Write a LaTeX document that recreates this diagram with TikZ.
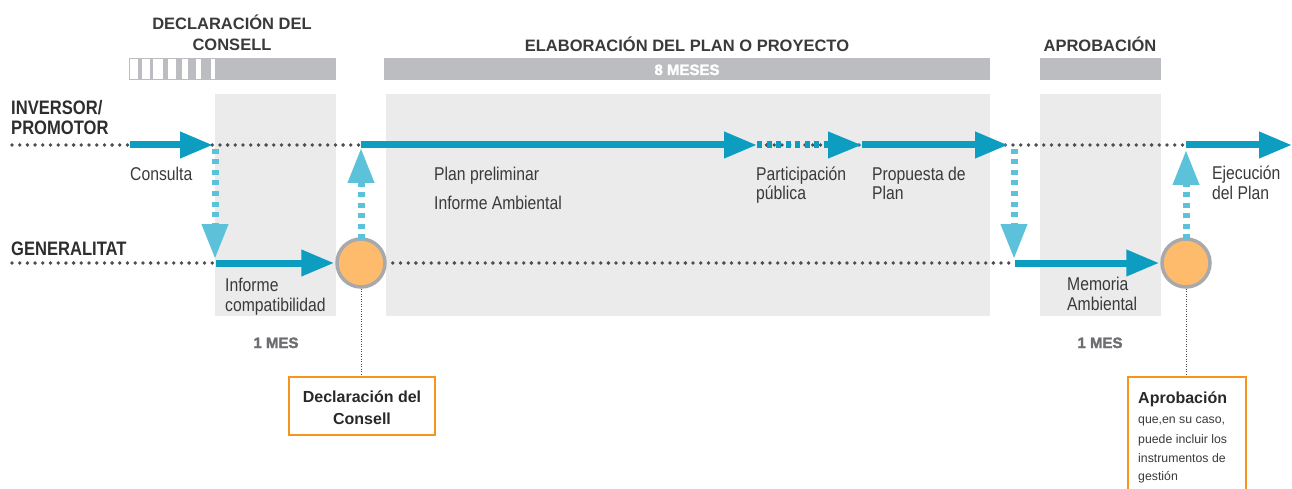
\documentclass[tikz,border=0pt]{standalone}
\usepackage{fontspec}
\setmainfont{Liberation Sans}
\newfontfamily\cond{Liberation Sans}[FakeStretch=0.85]
\newfontfamily\heavy{Liberation Sans Bold}[FakeBold=2]
\usetikzlibrary{arrows.meta}
\definecolor{darkblue}{HTML}{0C9DC0}
\definecolor{lightblue}{HTML}{5CC2DA}
\definecolor{bargray}{HTML}{BCBDC0}
\definecolor{panelgray}{HTML}{EBEBEB}
\definecolor{dotgray}{HTML}{4D4D4F}
\definecolor{circorange}{HTML}{FDBB6B}
\definecolor{ringgray}{HTML}{A7A9AC}
\definecolor{boxorange}{HTML}{F7941D}
\definecolor{txt}{HTML}{3A3A3A}
\definecolor{mesgray}{HTML}{6D6E71}
\tikzset{
  dotline/.style={draw=dotgray, line width=3.8pt, line cap=round, dash pattern=on 0pt off 7.7pt},
  mainarrow/.style={draw=darkblue, line width=7pt, -{Triangle[length=33pt,width=25pt]}},
  dasharrow/.style={draw=darkblue, line width=7pt, dash pattern=on 5pt off 4.5pt, -{Triangle[length=34pt,width=25pt]}},
  vertarrow/.style={draw=lightblue, line width=7pt, dash pattern=on 5pt off 5.5pt, -{Triangle[length=35pt,width=25pt, fill=lightblue]}},
  milestone/.style={circle, fill=circorange, draw=ringgray, line width=3.5pt, minimum size=48pt, inner sep=0pt},
  leader/.style={draw=dotgray, line width=1pt, dash pattern=on 1pt off 1.5pt},
  notebox/.style={draw=boxorange, line width=2.5pt, fill=white, inner sep=0pt},
  lbl/.style={anchor=base west, inner sep=0pt, text=txt, font=\cond\fontsize{18.5}{20}\selectfont},
  role/.style={anchor=base west, inner sep=0pt, text=txt!80!black, font=\cond\bfseries\fontsize{19.5}{21}\selectfont},
  header/.style={anchor=base, inner sep=0pt, text=txt, font=\bfseries\fontsize{16.5}{18}\selectfont},
  mes/.style={anchor=base, inner sep=0pt, text=mesgray, font=\heavy\fontsize{15}{17}\selectfont},
  boxtitle/.style={anchor=base, inner sep=0pt, text=txt!70!black, font=\bfseries\fontsize{16}{18}\selectfont},
  smalltxt/.style={anchor=base west, inner sep=0pt, text=txt, font=\fontsize{12.3}{14}\selectfont},
}
\begin{document}
\begin{tikzpicture}[x=1pt,y=-1pt]
\useasboundingbox (0,0) rectangle (1292,489);
% panels
\fill[panelgray] (215,94) rectangle (336,316);
\fill[panelgray] (386,94) rectangle (990,316);
\fill[panelgray] (1040,94) rectangle (1161,316);
% header bars
\fill[bargray] (129,58) rectangle (336,80);
\foreach \a/\b in {130/138.3,141.7/150,153.3/163.3,167.7/175.7,181.7/188.3,195.7/201,211/215}
  \fill[white] (\a,59.3) rectangle (\b,78.7);
\fill[bargray] (384,58) rectangle (990,80);
\fill[bargray] (1040,58) rectangle (1161,80);
% headers
\node[header] (h1a) at (232,30) {DECLARACIÓN DEL};
\node[header] (h1b) at (232,51) {CONSELL};
\node[header] (h2) at (687,52) {ELABORACIÓN DEL PLAN O PROYECTO};
\node[header] (h3) at (1100,52) {APROBACIÓN};
\node[anchor=base, inner sep=0pt, text=white, font=\heavy\fontsize{15}{17}\selectfont] (m8) at (687,75) {8 MESES};
% role labels
\node[role] (r1a) at (11,115) {INVERSOR/};
\node[role] (r1b) at (11,135) {PROMOTOR};
\node[role] (r2) at (11,255) {GENERALITAT};
% coordinates
\coordinate (tL) at (12,145);
\coordinate (tA) at (130,145);
\coordinate (tB) at (213,145);
\coordinate (tC) at (361,145);
\coordinate (tD) at (757,145);
\coordinate (tE) at (862,145);
\coordinate (tF) at (1008,145);
\coordinate (tG) at (1186,145);
\coordinate (tR) at (1292,145);
\coordinate (bL) at (12,263);
\coordinate (bA) at (216,263);
\coordinate (bB) at (1015,263);
\coordinate (v1s) at (215,149);
\coordinate (v1e) at (215,259);
\coordinate (v2e) at (361,148);
\coordinate (v3s) at (1014,149);
\coordinate (v3e) at (1014,259);
\coordinate (v4e) at (1186,150);
% milestones
\node[milestone] (c1) at (361,263) {};
\node[milestone] (c2) at (1186,263) {};
% dotted timelines
\draw[dotline] (tL) -- (tG);
\draw[dotline] (bL) -- (bA);
\draw[dotline] ([xshift=6pt]c1.east) -- (bB);
% main arrows
\draw[mainarrow] (tA) -- (tB);
\draw[mainarrow] (tC) -- (tD);
\draw[dasharrow] (tD) -- (tE);
\draw[mainarrow] (tE) -- (tF);
\draw[mainarrow] (tG) -- (tR);
\draw[mainarrow] (bA) -- ([xshift=-1pt]c1.west);
\draw[mainarrow] (bB) -- ([xshift=-1pt]c2.west);
% vertical arrows
\draw[vertarrow] (v1s) -- (v1e);
\draw[vertarrow] ([yshift=-2pt]c1.north) -- (v2e);
\draw[vertarrow] (v3s) -- (v3e);
\draw[vertarrow] ([yshift=-2pt]c2.north) -- (v4e);
% labels
\node[lbl] (l1) at (130,181) {Consulta};
\node[lbl] (l2a) at (225,291) {Informe};
\node[lbl] (l2b) at (225,311) {compatibilidad};
\node[lbl] (l3a) at (434,181) {Plan preliminar};
\node[lbl] (l3b) at (434,209) {Informe Ambiental};
\node[lbl] (l4a) at (756,181) {Participación};
\node[lbl] (l4b) at (756,200) {pública};
\node[lbl] (l5a) at (872,181) {Propuesta de};
\node[lbl] (l5b) at (872,200) {Plan};
\node[lbl] (l6a) at (1212,180) {Ejecución};
\node[lbl] (l6b) at (1212,200) {del Plan};
\node[lbl] (l7a) at (1067,290) {Memoria};
\node[lbl] (l7b) at (1067,310) {Ambiental};
\node[mes] (m1) at (276,348) {1 MES};
\node[mes] (m2) at (1100,348) {1 MES};
% note boxes
\node[notebox, minimum width=146pt, minimum height=58pt] (box1) at (362,406) {};
\node[notebox, minimum width=118pt, minimum height=123pt] (box2) at (1187,438.5) {};
\draw[leader] (c1.south) -- (c1.south |- box1.north);
\draw[leader] (c2.south) -- (c2.south |- box2.north);
\node[boxtitle] (bt1a) at (362,402) {Declaración del};
\node[boxtitle] (bt1b) at (362,424) {Consell};
\node[boxtitle, anchor=base west] (bt2) at (1138,403) {Aprobación};
\node[smalltxt] (s1) at (1138,423) {que,en su caso,};
\node[smalltxt] (s2) at (1138,443) {puede incluir los};
\node[smalltxt] (s3) at (1138,462) {instrumentos de};
\node[smalltxt] (s4) at (1138,480) {gestión};
\end{tikzpicture}
\end{document}
